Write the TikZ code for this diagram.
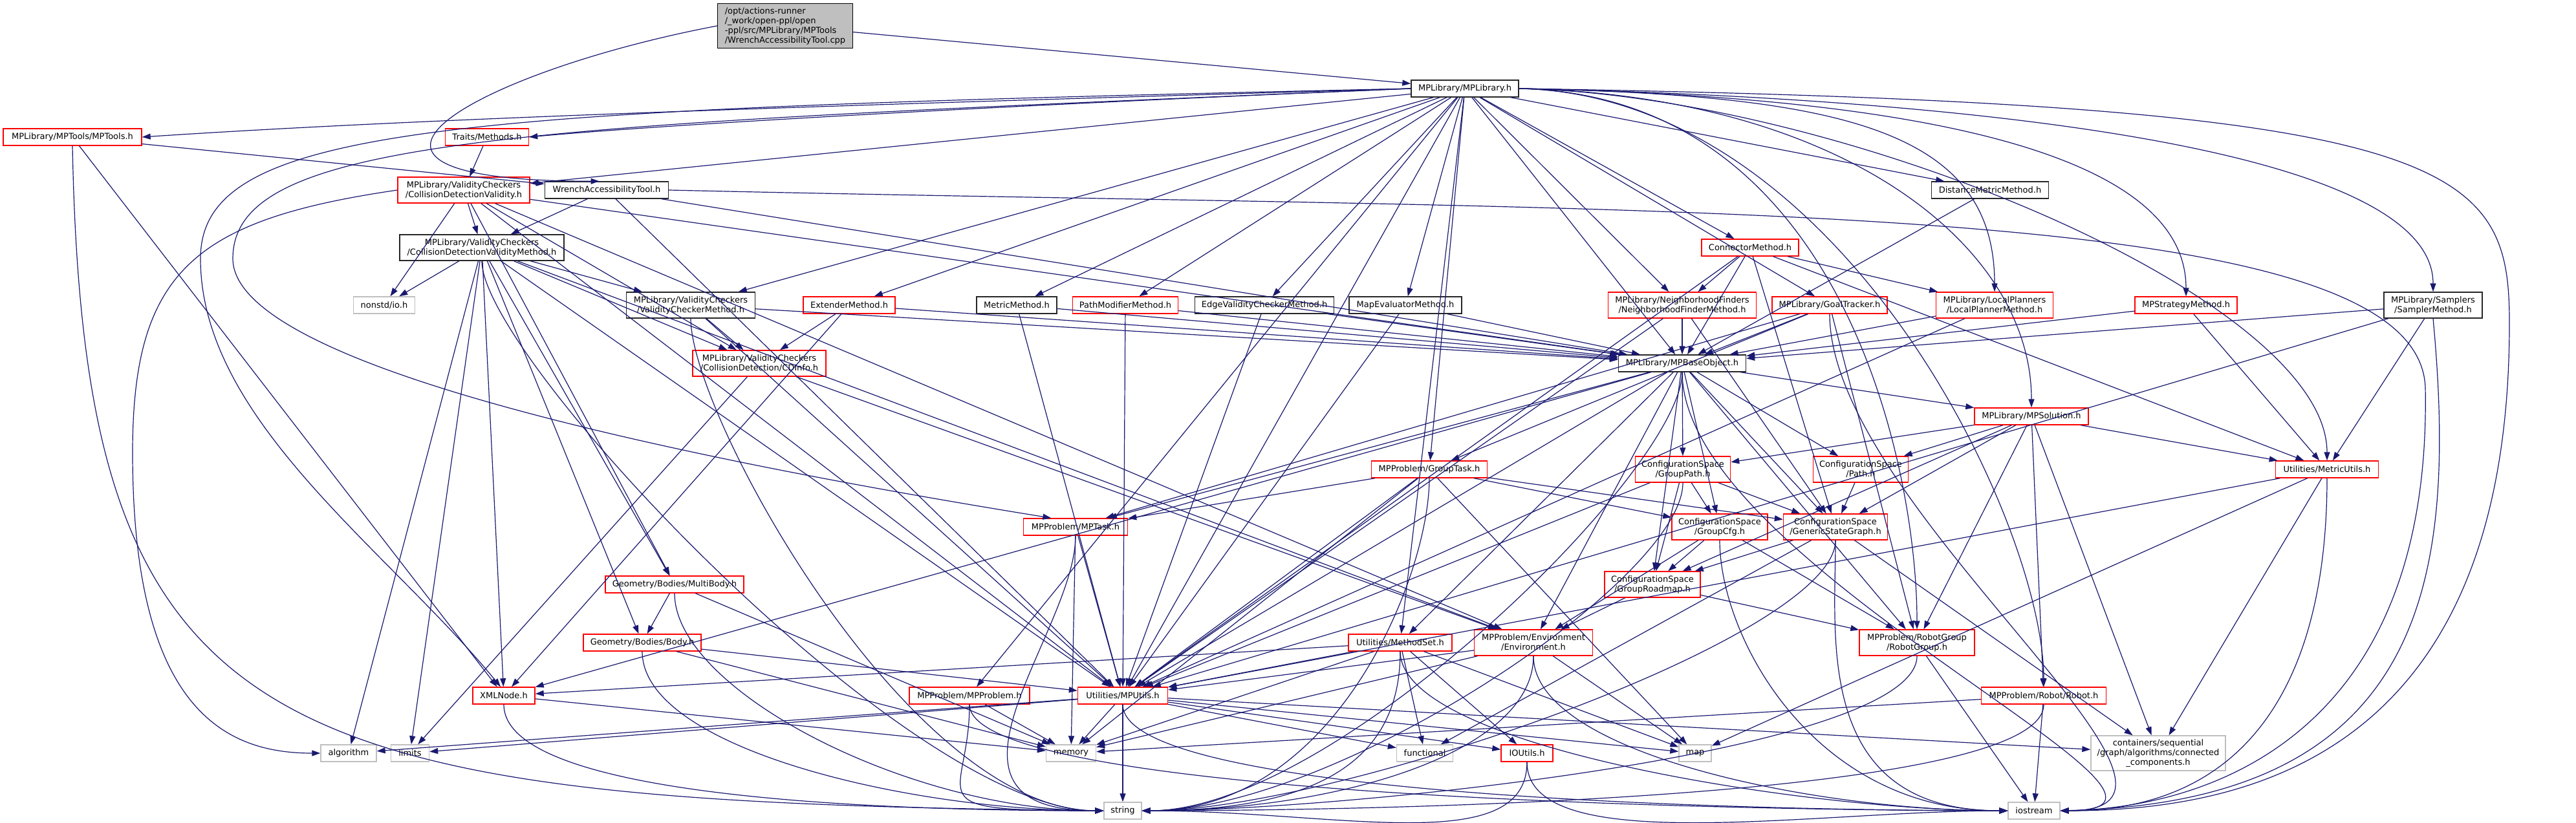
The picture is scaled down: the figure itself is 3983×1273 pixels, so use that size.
\documentclass[tikz,border=0pt]{standalone}
\usepackage{fontspec}
\setmainfont{DejaVu Sans}
\usetikzlibrary{arrows.meta}
\definecolor{edgec}{HTML}{191970}
\definecolor{sysc}{HTML}{BFBFBF}
\begin{document}
\begin{tikzpicture}[x=1pt,y=1pt,
  font=\fontsize{13pt}{15pt}\selectfont,
  nb/.style={draw, rectangle, line width=1.4pt, inner xsep=3pt, inner ysep=1pt, minimum height=26pt, align=center},
  blk/.style={nb, draw=black!85},
  rd/.style={nb, draw=red},
  sy/.style={nb, draw=sysc},
  two/.style={minimum height=40pt},
  e/.style={draw=edgec, line width=1.2pt, -{Triangle[length=13pt,width=9pt]}}]
\useasboundingbox (0,0) rectangle (3983,-1273);
\fill[white] (0,0) rectangle (3983,-1273);
% ---------- nodes ----------
\node[nb, draw=black, fill=sysc, align=left, minimum width=209pt, minimum height=69pt] (cpp) at (1214,-40) {/opt/actions-runner\\/\_work/open-ppl/open\\-ppl/src/MPLibrary/MPTools\\/WrenchAccessibilityTool.cpp};
\node[blk, minimum width=166pt] (MPLibrary) at (2265,-137) {MPLibrary/MPLibrary.h};
\node[rd, minimum width=214pt] (MPTools) at (112,-212) {MPLibrary/MPTools/MPTools.h};
\node[rd, minimum width=129pt] (Traits) at (753,-212) {Traits/Methods.h};
\node[rd, two, minimum width=204pt] (CDV) at (717,-294) {MPLibrary/ValidityCheckers\\/CollisionDetectionValidity.h};
\node[blk, minimum width=191pt] (WrenchTool) at (938,-294) {WrenchAccessibilityTool.h};
\node[blk, two, minimum width=254pt] (CDVMethod) at (745,-383) {MPLibrary/ValidityCheckers\\/CollisionDetectionValidityMethod.h};
\node[rd, minimum width=150pt] (ConnectorM) at (2706,-383) {ConnectorMethod.h};
\node[blk, minimum width=181pt] (DistMetM) at (3077,-294) {DistanceMetricMethod.h};
\node[sy, minimum width=95pt] (nonstdio) at (594,-472) {nonstd/io.h};
\node[blk, two, minimum width=199pt] (VCM) at (1068,-472) {MPLibrary/ValidityCheckers\\/ValidityCheckerMethod.h};
\node[rd, two, minimum width=206pt] (CDInfo) at (1174,-562) {MPLibrary/ValidityCheckers\\/CollisionDetection/CDInfo.h};
\node[rd, minimum width=142pt] (ExtenderM) at (1313,-472) {ExtenderMethod.h};
\node[blk, minimum width=124pt] (MetricM) at (1572,-472) {MetricMethod.h};
\node[rd, minimum width=163pt] (PathModM) at (1740,-472) {PathModifierMethod.h};
\node[blk, minimum width=215pt] (EdgeVCM) at (1955,-472) {EdgeValidityCheckerMethod.h};
\node[blk, minimum width=174pt] (MapEvalM) at (2173,-472) {MapEvaluatorMethod.h};
\node[rd, two, minimum width=229pt] (NFM) at (2601,-472) {MPLibrary/NeighborhoodFinders\\/NeighborhoodFinderMethod.h};
\node[rd, minimum width=178pt] (GoalTracker) at (2829,-472) {MPLibrary/GoalTracker.h};
\node[blk, minimum width=197pt] (MPBaseObject) at (2601,-562) {MPLibrary/MPBaseObject.h};
\node[rd, two, minimum width=181pt] (LPM) at (3084,-472) {MPLibrary/LocalPlanners\\/LocalPlannerMethod.h};
\node[rd, minimum width=158pt] (MPStratM) at (3380,-472) {MPStrategyMethod.h};
\node[blk, two, minimum width=152pt] (SamplerM) at (3762,-472) {MPLibrary/Samplers\\/SamplerMethod.h};
\node[rd, minimum width=176pt] (MPSolution) at (3141,-644) {MPLibrary/MPSolution.h};
\node[rd, minimum width=179pt] (GroupTask) at (2210,-726) {MPProblem/GroupTask.h};
\node[rd, two, minimum width=147pt] (GroupPath) at (2602,-726) {ConfigurationSpace\\/GroupPath.h};
\node[rd, two, minimum width=147pt] (Path) at (2877,-726) {ConfigurationSpace\\/Path.h};
\node[rd, minimum width=159pt] (MetricUtils) at (3598,-726) {Utilities/MetricUtils.h};
\node[rd, minimum width=161pt] (MPTask) at (1663,-815) {MPProblem/MPTask.h};
\node[rd, two, minimum width=148pt] (GroupCfg) at (2659,-815) {ConfigurationSpace\\/GroupCfg.h};
\node[rd, two, minimum width=161pt] (GSG) at (2838,-815) {ConfigurationSpace\\/GenericStateGraph.h};
\node[rd, minimum width=214pt] (MultiBody) at (1043,-904) {Geometry/Bodies/MultiBody.h};
\node[rd, two, minimum width=148pt] (GroupRoadmap) at (2555,-904) {ConfigurationSpace\\/GroupRoadmap.h};
\node[rd, minimum width=182pt] (Body) at (993,-994) {Geometry/Bodies/Body.h};
\node[rd, minimum width=160pt] (MethodSet) at (2165,-994) {Utilities/MethodSet.h};
\node[rd, two, minimum width=183pt] (Environment) at (2371,-994) {MPProblem/Environment\\/Environment.h};
\node[rd, two, minimum width=178pt] (RobotGroup) at (2964,-994) {MPProblem/RobotGroup\\/RobotGroup.h};
\node[rd, minimum width=96pt] (XMLNode) at (779,-1076) {XMLNode.h};
\node[rd, minimum width=186pt] (MPProblem) at (1499,-1076) {MPProblem/MPProblem.h};
\node[rd, minimum width=139pt] (MPUtils) at (1736,-1076) {Utilities/MPUtils.h};
\node[rd, minimum width=193pt] (Robot) at (3160,-1076) {MPProblem/Robot/Robot.h};
\node[sy, minimum width=86pt] (algorithm) at (539,-1165) {algorithm};
\node[sy, minimum width=59pt] (limits) at (634,-1165) {limits};
\node[sy, minimum width=77pt] (memory) at (1656,-1165) {memory};
\node[sy, minimum width=87pt] (functional) at (2203,-1165) {functional};
\node[rd, minimum width=80pt] (IOUtils) at (2361,-1165) {IOUtils.h};
\node[sy, minimum width=50pt] (map) at (2621,-1165) {map};
\node[sy, minimum width=208pt, minimum height=54pt] (connected) at (3337,-1165) {containers/sequential\\/graph/algorithms/connected\\\_components.h};
\node[sy, minimum width=58pt] (string) at (1736,-1254) {string};
\node[sy, minimum width=80pt] (iostream) at (3145,-1254) {iostream};
% ---------- straight edges ----------
\foreach \a/\b in {cpp/MPLibrary,
 MPLibrary/CDV, MPLibrary/VCM, MPLibrary/ExtenderM, MPLibrary/MetricM,
 MPLibrary/PathModM, MPLibrary/EdgeVCM, MPLibrary/MapEvalM, MPLibrary/MethodSet, MPLibrary/MPUtils,
 MPLibrary/GroupTask, MPLibrary/NFM, MPLibrary/GoalTracker, MPLibrary/ConnectorM, MPLibrary/DistMetM,
 MPLibrary/MPBaseObject, MPLibrary/MPProblem,
 MPTools/WrenchTool, MPTools/XMLNode, Traits/CDV,
 WrenchTool/CDVMethod, WrenchTool/MPUtils, WrenchTool/MPBaseObject,
 CDV/CDVMethod, CDV/nonstdio, CDV/CDInfo, CDV/MultiBody, CDV/MPUtils, CDV/MPBaseObject, CDV/Environment,
 CDVMethod/nonstdio, CDVMethod/VCM, CDVMethod/CDInfo, CDVMethod/MultiBody, CDVMethod/Body, CDVMethod/limits,
 CDVMethod/algorithm, CDVMethod/MPUtils, CDVMethod/Environment, CDVMethod/XMLNode,
 VCM/CDInfo, VCM/MPBaseObject, VCM/MPUtils, CDInfo/limits, CDInfo/Environment,
 ExtenderM/CDInfo, ExtenderM/MPBaseObject, ExtenderM/XMLNode,
 MetricM/MPBaseObject, MetricM/MPUtils, PathModM/MPBaseObject, PathModM/MPUtils,
 EdgeVCM/MPBaseObject, EdgeVCM/MPUtils, MapEvalM/MPBaseObject, MapEvalM/MPUtils,
 NFM/MPBaseObject, NFM/MPUtils, NFM/GSG,
 GoalTracker/MPBaseObject, GoalTracker/GroupTask, GoalTracker/MPTask, GoalTracker/RobotGroup,
 ConnectorM/NFM, ConnectorM/MPBaseObject, ConnectorM/MetricUtils, ConnectorM/GSG, ConnectorM/LPM, ConnectorM/MPUtils,
 DistMetM/MPBaseObject, LPM/MPBaseObject, LPM/MPUtils, MPStratM/MPBaseObject, MPStratM/MetricUtils,
 SamplerM/MPBaseObject, SamplerM/MetricUtils, SamplerM/MPUtils,
 MPBaseObject/GroupPath, MPBaseObject/Path, MPBaseObject/GroupCfg, MPBaseObject/GSG, MPBaseObject/GroupRoadmap,
 MPBaseObject/MPSolution, MPBaseObject/MPTask, MPBaseObject/MPUtils, MPBaseObject/XMLNode, MPBaseObject/MethodSet,
 MPBaseObject/Environment, MPBaseObject/RobotGroup,
 MPSolution/GroupPath, MPSolution/Path, MPSolution/GSG, MPSolution/GroupRoadmap, MPSolution/RobotGroup,
 MPSolution/Robot, MPSolution/MetricUtils, MPSolution/connected,
 GroupTask/MPTask, GroupTask/GroupCfg, GroupTask/GSG, GroupTask/MPUtils, GroupTask/memory, GroupTask/map,
 GroupPath/GroupCfg, GroupPath/GroupRoadmap, GroupPath/GSG, GroupPath/MPUtils, Path/GSG,
 MetricUtils/map, MetricUtils/connected, MetricUtils/MPUtils, MPTask/MPUtils, MPTask/memory,
 GroupCfg/GroupRoadmap, GroupCfg/Environment, GroupCfg/RobotGroup,
 GSG/GroupRoadmap, GSG/connected, GSG/functional, GroupRoadmap/Environment, GroupRoadmap/RobotGroup,
 MultiBody/Body, MultiBody/memory, Body/MPUtils, Body/memory, XMLNode/memory, MPProblem/memory,
 MethodSet/XMLNode, MethodSet/MPUtils, MethodSet/memory, MethodSet/functional, MethodSet/IOUtils, MethodSet/map,
 Environment/MPUtils, Environment/memory, Environment/map, Robot/memory,
 MPUtils/algorithm, MPUtils/limits, MPUtils/memory, MPUtils/string, MPUtils/functional, MPUtils/IOUtils,
 MPUtils/map, MPUtils/connected, RobotGroup/iostream, Robot/iostream}
 \draw[e] (\a) -- (\b);
% ---------- MPLibrary to the upper-left row, passing above Traits ----------
\draw[e] (MPLibrary.west) .. controls (1400,-160) and (700,-180) .. (MPTools.east);
\draw[e] (MPLibrary.west) .. controls (1500,-165) and (1000,-195) .. (Traits.east);
% ---------- curved edges from MPLibrary to the right ----------
\foreach \b in {LPM, MPStratM, SamplerM, MPSolution, MetricUtils, RobotGroup, Robot}
 \draw[e] (MPLibrary.east) .. controls +(500,-10) and +(0,250) .. (\b.north);
% ---------- into string ----------
\foreach \a in {XMLNode, MultiBody, Body, MPProblem, MPTask, VCM, CDVMethod}
 \draw[e] (\a.south) .. controls +(0,-150) and +(-300,0) .. (string.west);
\foreach \a in {MPBaseObject, GroupTask, GroupPath, MethodSet, Environment, IOUtils, RobotGroup, Robot, GSG}
 \draw[e] (\a.south) .. controls +(0,-150) and +(300,0) .. (string.east);
% ---------- into iostream ----------
\foreach \a in {MPProblem, Environment, MethodSet, MPUtils, IOUtils, GSG, GroupCfg}
 \draw[e] (\a.south) .. controls +(0,-150) and +(-300,0) .. (iostream.west);
\foreach \a in {MetricUtils, GoalTracker, MPBaseObject}
 \draw[e] (\a.south) .. controls +(0,-300) and +(300,0) .. (iostream.east);
% ---------- routed edges ----------
\draw[e] (cpp.west) .. controls (740,-110) and (430,-280) .. (WrenchTool.130);
\draw[e] (MPLibrary.west) .. controls (700,-170) and (310,-190) .. (310,-400) .. controls (310,-650) and (600,-850) .. (XMLNode.110);
\draw[e] (MPLibrary.west) .. controls (800,-195) and (360,-210) .. (360,-400) .. controls (360,-560) and (1000,-700) .. (MPTask.160);
\draw[e] (MPTools.south) .. controls (130,-1150) and (400,-1240) .. (string.west);
\draw[e] (CDV.west) .. controls (300,-340) and (205,-420) .. (205,-700) .. controls (205,-1100) and (350,-1165) .. (algorithm.west);
\draw[e] (MPLibrary.east) .. controls (3800,-160) and (3880,-250) .. (3880,-500) .. controls (3880,-1150) and (3500,-1254) .. (iostream.east);
\draw[e] (SamplerM.south) .. controls (3800,-900) and (3750,-1240) .. (iostream.east);
\draw[e] (WrenchTool.east) .. controls (2600,-330) and (3740,-300) .. (3750,-600) .. controls (3760,-1150) and (3400,-1250) .. (iostream.east);
\end{tikzpicture}
\end{document}
